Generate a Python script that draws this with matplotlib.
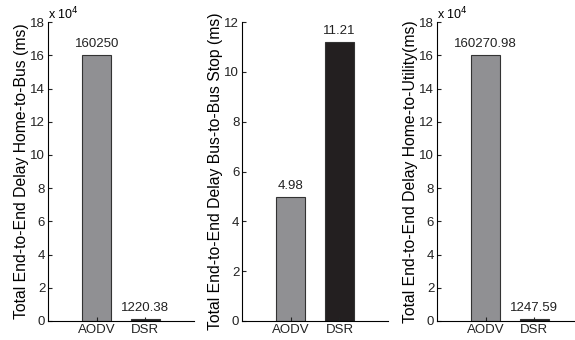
import matplotlib.pyplot as plt

protocolos = ["AODV", "DSR"]
colores = ["#909093", "#231f20"]

home_bus = [160250, 1220.38]
bus_stop = [4.98, 11.21]
home_utility = [160270.98, 1247.59]

etiquetas_home_bus = ["160250", "1220.38"]
etiquetas_bus_stop = ["4.98", "11.21"]
etiquetas_home_utility = ["160270.98", "1247.59"]

titulos_y = [
    "Total End-to-End Delay Home-to-Bus (ms)",
    "Total End-to-End Delay Bus-to-Bus Stop (ms)",
    "Total End-to-End Delay Home-to-Utility(ms)",
]

plt.rcParams["font.family"] = ["Liberation Sans", "DejaVu Sans"]
plt.rcParams["font.size"] = 9.5

fig = plt.figure(figsize=(5.75, 3.4), dpi=100)

paneles = [
    (0.0835, home_bus, etiquetas_home_bus, 1e4, 18, True),
    (0.421, bus_stop, etiquetas_bus_stop, 1, 12, False),
    (0.760, home_utility, etiquetas_home_utility, 1e4, 18, True),
]

for (izq, valores, etiquetas, escala, ymax, exponente), titulo in zip(paneles, titulos_y):
    ax = fig.add_axes([izq, 0.056, 0.254, 0.879])
    x = [1, 2]
    alturas = [v / escala for v in valores]
    ax.bar(x, alturas, width=0.6, color=colores, edgecolor="#333333", linewidth=0.8)
    for xi, h, et in zip(x, alturas, etiquetas):
        ax.text(xi, h + ymax * 0.015, et, ha="center", va="bottom", fontsize=9.5, color="#222222")
    ax.set_xlim(0, 3)
    ax.set_ylim(0, ymax)
    ax.set_yticks(range(0, ymax + 1, 2))
    ax.set_xticks(x)
    ax.set_xticklabels(protocolos)
    ax.tick_params(direction="in", length=3, width=0.8, pad=2, colors="#222222")
    ax.spines["top"].set_visible(False)
    ax.spines["right"].set_visible(False)
    ax.set_ylabel(titulo, fontsize=11.3, labelpad=1)
    if exponente:
        ax.text(0.0, 1.0, r"x 10$^4$", transform=ax.transAxes, ha="left", va="bottom", fontsize=9)

fig.savefig("out.png", dpi=100)
